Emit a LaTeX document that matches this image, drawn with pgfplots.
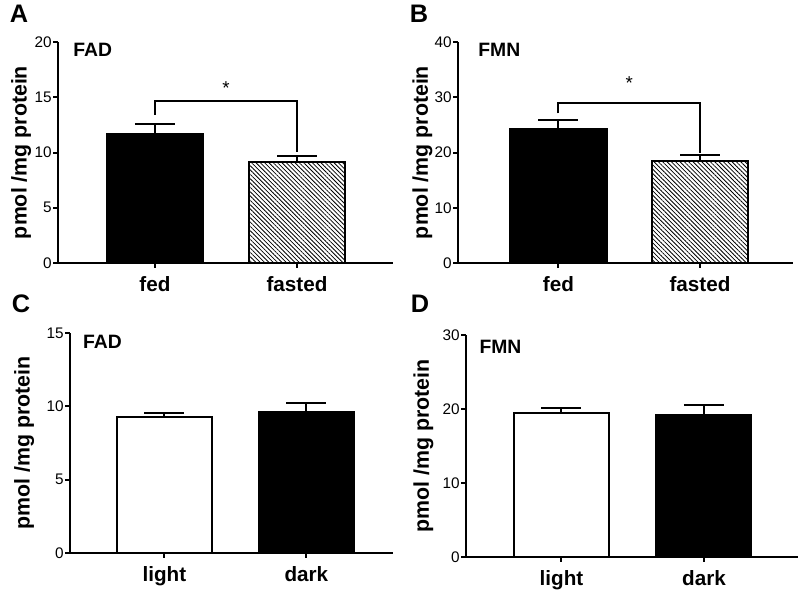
\documentclass[border=0pt]{standalone}
\usepackage{pgfplots}
\pgfplotsset{compat=1.18}
\usepackage{fontspec}
\setmainfont{Liberation Sans}
\usetikzlibrary{patterns.meta}
\tikzset{ttl/.style={anchor=west, inner sep=0pt, font=\fontsize{14.5}{14.5}\selectfont\bfseries}}
\pgfplotsset{
 panel/.style={
  scale only axis,
  axis lines=left,
  axis line style={-, line width=1.5pt},
  ymin=0,
  xtick={1,2},
  tick align=outside,
  major tick length=3.5pt,
  tick style={line width=1.5pt, black},
  /pgf/number format/assume math mode=true,
  yticklabel style={font=\fontsize{11.5}{11.5}\selectfont, inner sep=1pt},
  xticklabel style={font=\fontsize{15.5}{15.5}\selectfont\bfseries, yshift=-3pt},
  ylabel={pmol /mg protein},
  clip=false,
 },
 barstyle/.style={ybar, bar shift=0pt, line width=1.5pt, draw=black,
  error bars/y dir=plus, error bars/y explicit,
  error bars/error mark options={rotate=90, line width=1.5pt, mark size=15pt, black},
  error bars/error bar style={line width=1.5pt, black}},
 hatch/.style={pattern={Lines[angle=-45, distance=2.3pt, line width=0.6pt]}},
}
\begin{document}
\begin{tikzpicture}
\useasboundingbox (0,0) rectangle (600pt,-444pt);
% Panel letters
\node[font=\fontsize{19}{19}\selectfont\bfseries] at (14.25pt,-10.5pt) {A};
\node[font=\fontsize{19}{19}\selectfont\bfseries] at (314.25pt,-10.5pt) {B};
\node[font=\fontsize{19}{19}\selectfont\bfseries] at (15.75pt,-228pt) {C};
\node[font=\fontsize{19}{19}\selectfont\bfseries] at (315pt,-228pt) {D};

% Panel A
\begin{axis}[panel, at={(43.5pt,-197.25pt)}, anchor=south west,
  width=251.25pt, height=165.75pt,
  xmin=0.317, xmax=2.676, ymax=20, ytick={0,5,10,15,20},
  xticklabels={fed,fasted},
  ylabel style={font=\fontsize{16}{16}\selectfont\bfseries, at={(axis description cs:-0.110,0.5)}, anchor=center}]
\addplot[barstyle, bar width=0.676, fill=black] coordinates {(1,11.7) +- (0,0.85)};
\addplot[barstyle, bar width=0.676, hatch] coordinates {(2,9.1) +- (0,0.6)};
\draw[line width=1.5pt] (axis cs:1,13.4) -- (axis cs:1,14.66) -- (axis cs:2,14.66) -- (axis cs:2,10.04);
\node[font=\fontsize{14}{14}\selectfont] at (axis cs:1.5,15.8) {*};
\node[ttl] at (rel axis cs:0.045,0.964) {FAD};
\end{axis}

% Panel B
\begin{axis}[panel, at={(343.5pt,-197.25pt)}, anchor=south west,
  width=251.25pt, height=165.75pt,
  xmin=0.29, xmax=2.657, ymax=40, ytick={0,10,20,30,40},
  xticklabels={fed,fasted},
  ylabel style={font=\fontsize{16}{16}\selectfont\bfseries, at={(axis description cs:-0.106,0.5)}, anchor=center}]
\addplot[barstyle, bar width=0.685, fill=black] coordinates {(1,24.3) +- (0,1.6)};
\addplot[barstyle, bar width=0.685, hatch] coordinates {(2,18.5) +- (0,1.0)};
\draw[line width=1.5pt] (axis cs:1,27.1) -- (axis cs:1,29.0) -- (axis cs:2,29.0) -- (axis cs:2,19.9);
\node[font=\fontsize{14}{14}\selectfont] at (axis cs:1.5,32.6) {*};
\node[ttl] at (rel axis cs:0.06,0.964) {FMN};
\end{axis}

% Panel C
\begin{axis}[panel, at={(52.5pt,-414.75pt)}, anchor=south west,
  width=242.25pt, height=165pt,
  xmin=0.335, xmax=2.61, ymax=15, ytick={0,5,10,15},
  xticklabels={light,dark},
  ylabel style={font=\fontsize{16}{16}\selectfont\bfseries, at={(axis description cs:-0.142,0.5)}, anchor=center}]
\addplot[barstyle, bar width=0.669, fill=white] coordinates {(1,9.27) +- (0,0.28)};
\addplot[barstyle, bar width=0.669, fill=black] coordinates {(2,9.62) +- (0,0.6)};
\node[ttl] at (rel axis cs:0.04,0.96) {FAD};
\end{axis}

% Panel D
\begin{axis}[panel, at={(349.5pt,-417.75pt)}, anchor=south west,
  width=249pt, height=166.5pt,
  xmin=0.33, xmax=2.66, ymax=30, ytick={0,10,20,30},
  xticklabels={light,dark},
  ylabel style={font=\fontsize{16}{16}\selectfont\bfseries, at={(axis description cs:-0.128,0.5)}, anchor=center}]
\addplot[barstyle, bar width=0.667, fill=white] coordinates {(1,19.4) +- (0,0.75)};
\addplot[barstyle, bar width=0.667, fill=black] coordinates {(2,19.2) +- (0,1.4)};
\node[ttl] at (rel axis cs:0.04,0.946) {FMN};
\end{axis}
\end{tikzpicture}
\end{document}
